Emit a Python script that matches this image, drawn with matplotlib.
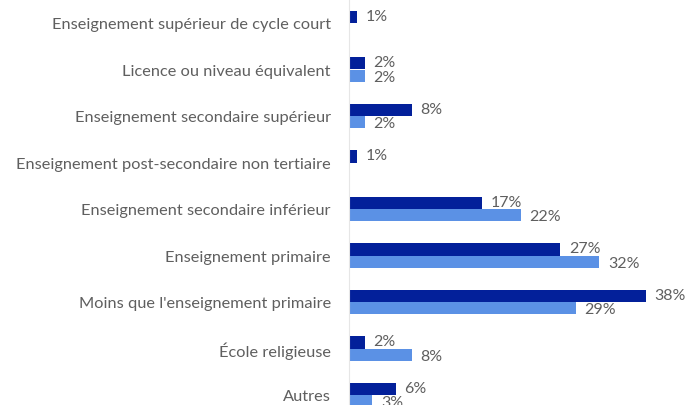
import numpy as np
import matplotlib
matplotlib.use("Agg")
import matplotlib.pyplot as plt

plt.rcParams['font.family'] = ['Lato', 'DejaVu Sans']

# catégories, du haut vers le bas
categories = ["Enseignement supérieur de cycle court",
              "Licence ou niveau équivalent",
              "Enseignement secondaire supérieur",
              "Enseignement post-secondaire non tertiaire",
              "Enseignement secondaire inférieur",
              "Enseignement primaire",
              "Moins que l'enseignement primaire",
              "École religieuse",
              "Autres"]
serie1 = [1, 2, 8, 1, 17, 27, 38, 2, 6]            # bleu foncé
serie2 = [None, 2, 2, None, 22, 32, 29, 8, 3]      # bleu clair

dark = '#03209a'
light = '#5b91e5'
grey = '#5f5f5f'

fig = plt.figure(figsize=(6.86, 4.06), dpi=100)
ax = fig.add_axes([349/686, 0, 1 - 349/686, 1])

y = np.arange(len(categories))
h = 0.26
for i in range(len(categories)):
    ax.barh(y[i] - h/2, serie1[i], height=h, color=dark, align='center')
    ax.text(serie1[i] + 1.1, y[i] - h/2 - 0.03, f"{serie1[i]}%", va='center',
            ha='left', color=grey, fontsize=11.5)
    if serie2[i] is not None:
        ax.barh(y[i] + h/2, serie2[i], height=h, color=light, align='center')
        ax.text(serie2[i] + 1.1, y[i] + h/2 + 0.03, f"{serie2[i]}%", va='center',
                ha='left', color=grey, fontsize=11.5)

ax.set_xlim(0, (686 - 349) / 7.82)
ax.set_ylim(8 + 10/46.5, -24/46.5)
ax.set_yticks(y)
ax.set_yticklabels(categories, color=grey, fontsize=11.8)
ax.tick_params(axis='y', length=0, pad=13)
ax.set_xticks([])
for s in ['top', 'right', 'bottom']:
    ax.spines[s].set_visible(False)
ax.spines['left'].set_color('#e6e6e6')

fig.savefig('out.png', dpi=100)
